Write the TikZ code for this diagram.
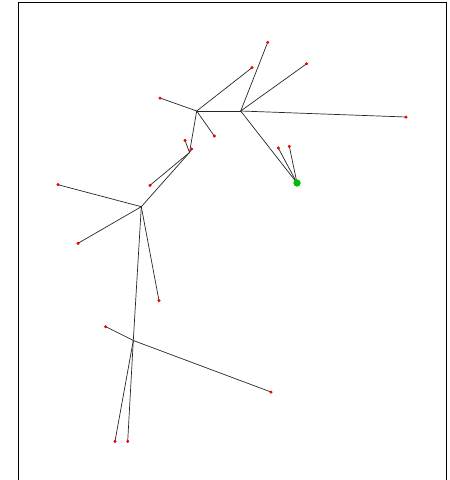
\documentclass[tikz,border=0pt]{standalone}
\begin{document}
\begin{tikzpicture}[x=1pt,y=-1pt,
  leaf/.style={circle,fill=red,inner sep=0pt,minimum size=3pt},
  hub/.style={coordinate},
  root/.style={circle,fill=green!75!black,inner sep=0pt,minimum size=7pt},
  edge/.style={draw=black!85,line width=0.7pt}]
\clip (0,0) rectangle (450,480);
\useasboundingbox (0,0) rectangle (450,480);
\draw[line width=0.9pt] (18.3,2.7) rectangle (446.7,495);
% hubs
\node[hub] (A) at (196.7,111) {};
\node[hub] (B) at (240.7,111) {};
\node[hub] (C) at (189.5,152.5) {};
\node[hub] (D) at (141.3,206.7) {};
\node[hub] (E) at (133.3,340.5) {};
% root
\node[root] (G) at (297,183) {};
% leaves
\node[leaf] (a1) at (160,98) {};
\node[leaf] (a2) at (252,67.7) {};
\node[leaf] (a3) at (214.3,136) {};
\node[leaf] (b1) at (267.7,42.3) {};
\node[leaf] (b2) at (306.7,63.7) {};
\node[leaf] (b3) at (406,117) {};
\node[leaf] (g1) at (278.3,148) {};
\node[leaf] (g2) at (289.3,146.3) {};
\node[leaf] (c1) at (185,140.3) {};
\node[leaf] (c2) at (191.7,149) {};
\node[leaf] (c3) at (150,185.3) {};
\node[leaf] (d1) at (58,184.7) {};
\node[leaf] (d2) at (78,243.3) {};
\node[leaf] (d3) at (159,300.7) {};
\node[leaf] (e1) at (105.7,326.7) {};
\node[leaf] (e2) at (271,392) {};
\node[leaf] (e3) at (115,441.3) {};
\node[leaf] (e4) at (127.7,441.3) {};
% edges
\begin{scope}[on background layer/.try]
\draw[edge] (A) -- (B);
\draw[edge] (A) -- (a1.center);
\draw[edge] (A) -- (a2.center);
\draw[edge] (A) -- (a3.center);
\draw[edge] (A) -- (C);
\draw[edge] (B) -- (b1.center);
\draw[edge] (B) -- (b2.center);
\draw[edge] (B) -- (b3.center);
\draw[edge] (B) -- (G.center);
\draw[edge] (G.center) -- (g1.center);
\draw[edge] (G.center) -- (g2.center);
\draw[edge] (C) -- (c1.center);
\draw[edge] (C) -- (c2.center);
\draw[edge] (C) -- (c3.center);
\draw[edge] (C) -- (D);
\draw[edge] (D) -- (d1.center);
\draw[edge] (D) -- (d2.center);
\draw[edge] (D) -- (d3.center);
\draw[edge] (D) -- (E);
\draw[edge] (E) -- (e1.center);
\draw[edge] (E) -- (e2.center);
\draw[edge] (E) -- (e3.center);
\draw[edge] (E) -- (e4.center);
\end{scope}
% redraw dots on top
\foreach \n in {a1,a2,a3,b1,b2,b3,g1,g2,c1,c2,c3,d1,d2,d3,e1,e2,e3,e4}
  \fill[red] (\n.center) circle (1.5pt);
\fill[green!75!black] (G.center) circle (3.5pt);
\end{tikzpicture}
\end{document}
